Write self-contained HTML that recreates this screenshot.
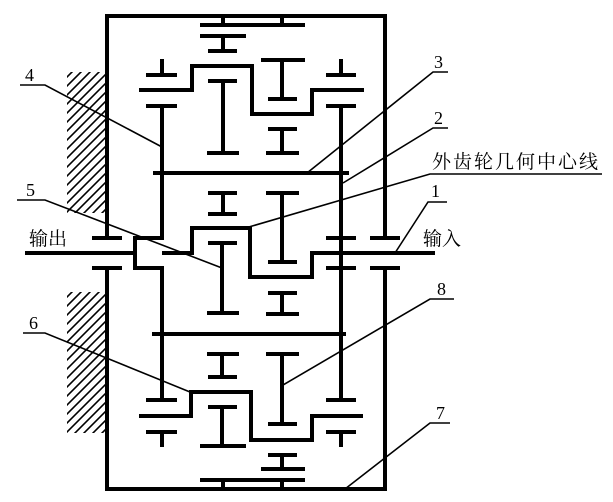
<!DOCTYPE html>
<html><head><meta charset="utf-8"><style>
html,body{margin:0;padding:0;background:#fff;}
svg{display:block;}
text{font-family:"Liberation Serif","Noto Serif CJK SC",serif;fill:#000;}
</style></head><body>
<svg width="613" height="502" viewBox="0 0 613 502" xmlns="http://www.w3.org/2000/svg">
<defs>
<clipPath id="h1"><rect x="67" y="72" width="38" height="141"/></clipPath>
<clipPath id="h2"><rect x="67" y="292" width="38" height="141"/></clipPath>
</defs>
<g stroke="#000" stroke-width="1.6">
<g clip-path="url(#h1)">
<path d="M60,84 L110,34 M60,93 L110,43 M60,102 L110,52 M60,111 L110,61 M60,120 L110,70 M60,129 L110,79 M60,138 L110,88 M60,147 L110,97 M60,156 L110,106 M60,165 L110,115 M60,174 L110,124 M60,183 L110,133 M60,192 L110,142 M60,201 L110,151 M60,210 L110,160 M60,219 L110,169 M60,228 L110,178 M60,237 L110,187 M60,246 L110,196 M60,255 L110,205 M60,264 L110,214"/>
</g>
<g clip-path="url(#h2)">
<path d="M60,304 L110,254 M60,313 L110,263 M60,322 L110,272 M60,331 L110,281 M60,340 L110,290 M60,349 L110,299 M60,358 L110,308 M60,367 L110,317 M60,376 L110,326 M60,385 L110,335 M60,394 L110,344 M60,403 L110,353 M60,412 L110,362 M60,421 L110,371 M60,430 L110,380 M60,439 L110,389 M60,448 L110,398 M60,457 L110,407 M60,466 L110,416 M60,475 L110,425 M60,484 L110,434"/>
</g>
</g>
<g stroke="#000" stroke-width="4" fill="none" stroke-linecap="butt">
<path d="M107,238 V16 H385 V238 M107,268 V489 H385 V268"/>
<path d="M92,238 H122 M92,268 H122 M370,238 H400 M370,268 H400"/>
<path d="M200,25 H305 M223,16 V25 M282,16 V25 M200,36 H246 M223,36 V51 M208,51 H237"/>
<path d="M200,480 H305 M223,480 V489 M282,480 V489 M261,469 H305 M282,455 V469 M268,455 H297"/>
<path d="M139,90 H192 V66 H252 V114 H312 V90 H364"/>
<path d="M162,59 V75 M146,75 H177 M146,106 H177 M162,106 V238 H135 V268 H162 V400 M146,400 H177"/>
<path d="M341,59 V75 M326,75 H356 M326,106 H356 M341,106 V400 M326,400 H356 M326,238 H356 M326,268 H356"/>
<path d="M208,81 H237 M223,81 V153 M207,153 H239"/>
<path d="M261,60 H305 M282,60 V99 M268,99 H297"/>
<path d="M268,129 H297 M282,129 V153 M266,153 H299"/>
<path d="M153,173 H349 M152,334 H346"/>
<path d="M208,193 H237 M223,193 V214 M208,214 H237"/>
<path d="M266,193 H299 M282,193 V262 M268,262 H297"/>
<path d="M208,243 H237 M222,243 V313 M207,313 H239"/>
<path d="M268,293 H297 M282,293 V314 M266,314 H299"/>
<path d="M25,253 H135"/>
<path d="M162,253 H192 V228 H250 V277 H312 V253 H435"/>
<path d="M207,354 H239 M222,354 V377 M208,377 H237"/>
<path d="M266,354 H299 M282,354 V424 M268,424 H297"/>
<path d="M139,416 H191 V392 H251 V440 H312 V416 H363"/>
<path d="M208,407 H237 M222,407 V446 M200,446 H246"/>
<path d="M146,432 H177 M162,432 V447 M326,432 H356 M341,432 V447"/>
</g>
<g stroke="#000" stroke-width="1.6" fill="none">
<path d="M20,85 H45 L162,147"/>
<path d="M17,200 H45 L222,268"/>
<path d="M23,333 H45 L190,392"/>
<path d="M448,72 H433 L307,173"/>
<path d="M448,128 H433 L343,183"/>
<path d="M602,174 H430 L242,229"/>
<path d="M447,202 H428 L395,253"/>
<path d="M454,299 H430 L283,385"/>
<path d="M450,423 H430 L345,489"/>
</g>
<g font-size="18">
<text x="25" y="81">4</text>
<text x="26" y="196">5</text>
<text x="29" y="329">6</text>
<text x="434" y="68">3</text>
<text x="434" y="124">2</text>
<text x="431" y="197">1</text>
<text x="437" y="295">8</text>
<text x="436" y="419">7</text>
</g>
<text x="432" y="168" font-size="19" letter-spacing="2">外齿轮几何中心线</text>
<text x="423" y="245" font-size="19">输入</text>
<text x="29" y="245" font-size="19">输出</text>
</svg>
</body></html>
